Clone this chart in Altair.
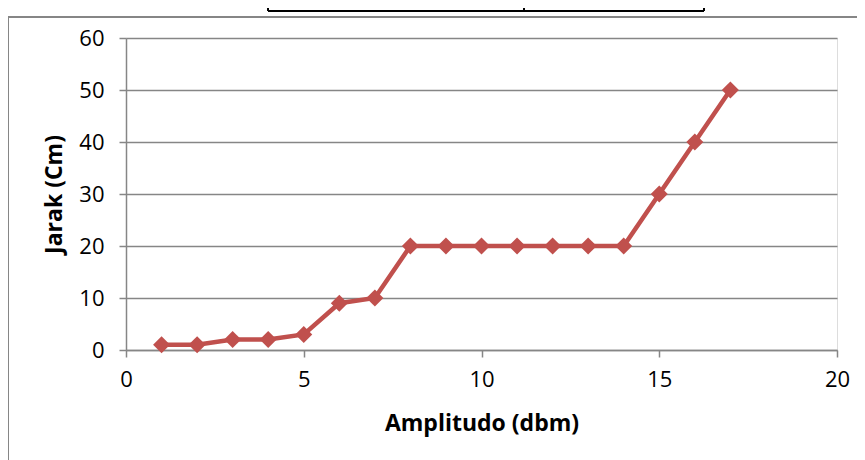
import altair as alt
import pandas as pd

amplitudo = list(range(1, 18))
jarak = [1, 1, 2, 2, 3, 9, 10, 20, 20, 20, 20, 20, 20, 20, 30, 40, 50]

df = pd.DataFrame({"Amplitudo": amplitudo, "Jarak": jarak})

FONT = "Open Sans"
RED = "#C0504D"
GRAY = "#868686"

base = alt.Chart(df)

line = base.mark_line(color=RED, strokeWidth=4.5).encode(
    x=alt.X(
        "Amplitudo:Q",
        scale=alt.Scale(domain=[0, 20], nice=False),
        axis=alt.Axis(
            title="Amplitudo (dbm)",
            values=[0, 5, 10, 15, 20],
            grid=False,
            labelFlush=False,
            domainColor=GRAY,
            domainWidth=1.5,
            tickColor=GRAY,
            tickSize=7,
            tickWidth=1.5,
            labelPadding=12,
            labelFontSize=22,
            labelFont=FONT,
            labelColor="black",
            titleFont=FONT,
            titleFontSize=23,
            titleFontWeight="bold",
            titleColor="black",
            titlePadding=22,
        ),
    ),
    y=alt.Y(
        "Jarak:Q",
        scale=alt.Scale(domain=[0, 60], nice=False),
        axis=alt.Axis(
            title="Jarak (Cm)",
            values=[0, 10, 20, 30, 40, 50, 60],
            grid=True,
            labelFlush=False,
            gridColor=GRAY,
            gridWidth=1.5,
            domainColor=GRAY,
            domainWidth=1.5,
            tickColor=GRAY,
            tickSize=7,
            tickWidth=1.5,
            labelPadding=15,
            labelFontSize=22,
            labelFont=FONT,
            labelColor="black",
            titleFont=FONT,
            titleFontSize=23,
            titleFontWeight="bold",
            titleColor="black",
            titlePadding=12,
        ),
    ),
)

points = base.mark_point(
    shape="diamond", filled=True, color=RED, size=290, opacity=1
).encode(x="Amplitudo:Q", y="Jarak:Q")

one = df.head(1)
frame_left = alt.Chart(one).mark_rule(color=GRAY, strokeWidth=2).encode(
    x=alt.value(-118), y=alt.value(-21), y2=alt.value(440)
)
frame_top = alt.Chart(one).mark_rule(color=GRAY, strokeWidth=2).encode(
    x=alt.value(-118), x2=alt.value(760), y=alt.value(-21)
)
table_bottom = alt.Chart(one).mark_rule(color="black", strokeWidth=2).encode(
    x=alt.value(142), x2=alt.value(578), y=alt.value(-27)
)
tv1 = alt.Chart(one).mark_rule(color="black", strokeWidth=2).encode(
    x=alt.value(142), y=alt.value(-45), y2=alt.value(-27)
)
tv2 = alt.Chart(one).mark_rule(color="black", strokeWidth=2).encode(
    x=alt.value(398), y=alt.value(-45), y2=alt.value(-27)
)
tv3 = alt.Chart(one).mark_rule(color="black", strokeWidth=2).encode(
    x=alt.value(578), y=alt.value(-45), y2=alt.value(-27)
)

chart = (
    alt.layer(frame_left, frame_top, table_bottom, tv1, tv2, tv3, line, points)
    .properties(
        width=711,
        height=312,
        autosize=alt.AutoSizeParams(type="none"),
        padding={"left": 118, "top": 30, "right": 20, "bottom": 110},
    )
    .configure_view(stroke=None)
    .configure(background="white")
)

chart.save("out.html", embed_options={"renderer": "svg", "actions": False})
